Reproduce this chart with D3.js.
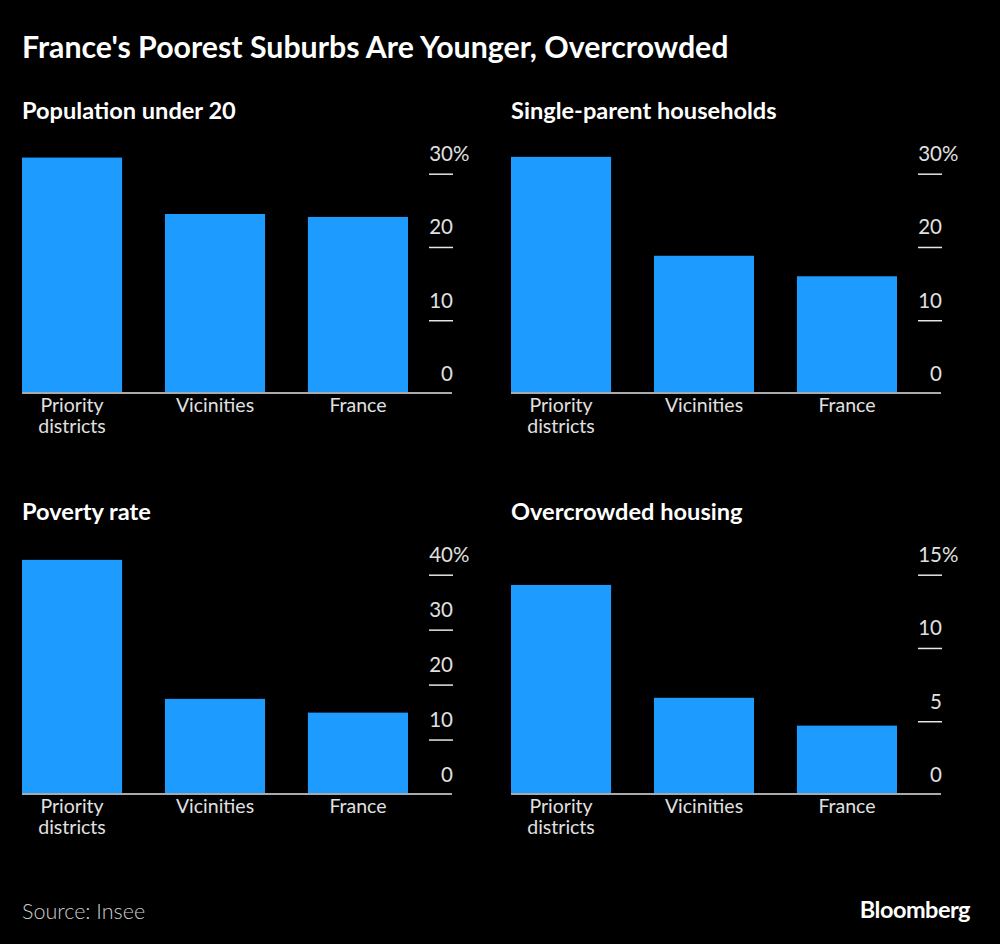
<!DOCTYPE html>
<html>
<head>
<meta charset="utf-8">
<script src="https://cdn.jsdelivr.net/npm/d3@7"></script>
<style>
  body { margin: 0; background: #000; }
  text { font-family: Lato, sans-serif; }
</style>
</head>
<body>
<script>
var width = 1000, height = 944

// data
var categories = ["Priority districts", "Vicinities", "France"]
var panelTitles = ["Population under 20", "Single-parent households", "Poverty rate", "Overcrowded housing"]
var populationUnder20 = [32.2, 24.5, 24.1]
var singleParent = [32.3, 18.8, 16.0]
var povertyRate = [42.7, 17.4, 14.9]
var overcrowded = [14.3, 6.6, 4.7]
var ticks1 = [0, 10, 20, 30]
var ticks2 = [0, 10, 20, 30]
var ticks3 = [0, 10, 20, 30, 40]
var ticks4 = [0, 5, 10, 15]

var panels = [
  {title: panelTitles[0], values: populationUnder20, ticks: ticks1, col: 0, row: 0},
  {title: panelTitles[1], values: singleParent, ticks: ticks2, col: 1, row: 0},
  {title: panelTitles[2], values: povertyRate, ticks: ticks3, col: 0, row: 1},
  {title: panelTitles[3], values: overcrowded, ticks: ticks4, col: 1, row: 1}
]

var svg = d3.select("body").append("svg")
    .attr("width", width)
    .attr("height", height)

svg.append("rect").attr("width", width).attr("height", height).attr("fill", "#000")

svg.append("text")
    .attr("x", 22).attr("y", 58)
    .attr("fill", "#fff")
    .attr("font-size", 30.3)
    .attr("font-weight", 700)
    .text("France's Poorest Suburbs Are Younger, Overcrowded")

var x = d3.scaleBand().domain(categories).range([0, 386]).paddingInner(0.3).paddingOuter(0)

panels.forEach(function(p) {
  var g = svg.append("g")
      .attr("transform", "translate(" + (22 + p.col * 489) + "," + (p.row * 401) + ")")

  g.append("text")
      .attr("x", 0).attr("y", 119)
      .attr("fill", "#fff")
      .attr("font-size", 23.6)
      .attr("font-weight", 700)
      .text(p.title)

  var y = d3.scaleLinear()
      .domain([0, d3.max(p.ticks)])
      .range([393.5, 173.7])

  // y axis on the right, labels sit above short tick lines
  var yAxis = g.append("g")
      .attr("transform", "translate(407,0)")
      .call(d3.axisRight(y).tickValues(p.ticks).tickSize(24).tickFormat(d3.format("d")))
  yAxis.select(".domain").remove()
  yAxis.selectAll(".tick line")
      .attr("stroke", "#e6e6e6").attr("stroke-width", 1.5)
      .filter(function(d) { return d === 0 }).remove()
  yAxis.selectAll(".tick text")
      .attr("x", 24).attr("dy", -13)
      .attr("text-anchor", "end")
      .attr("fill", "#e0e0e0")
      .attr("font-size", 20.5)
      .attr("font-weight", 400)
      .attr("font-family", "Lato, sans-serif")
  yAxis.selectAll(".tick")
      .filter(function(d) { return d === d3.max(p.ticks) })
      .append("text")
      .attr("x", 24).attr("y", -13)
      .attr("fill", "#e0e0e0")
      .attr("font-size", 20.5)
      .attr("font-weight", 400)
      .attr("letter-spacing", -1)
      .text("%")

  g.selectAll(".bar")
      .data(p.values)
    .enter().append("rect")
      .attr("class", "bar")
      .attr("x", function(d, i) { return x(categories[i]) })
      .attr("width", x.bandwidth())
      .attr("y", function(d) { return y(d) })
      .attr("height", function(d) { return y(0) - y(d) })
      .attr("fill", "#1e9bff")

  g.append("line")
      .attr("x1", 0).attr("x2", 430)
      .attr("y1", y(0) - 0.5).attr("y2", y(0) - 0.5)
      .attr("stroke", "#aaa")
      .attr("stroke-width", 2)

  // category labels, two-word names wrap onto a second line
  categories.forEach(function(c) {
    c.split(" ").forEach(function(word, i) {
      g.append("text")
          .attr("x", x(c) + x.bandwidth() / 2)
          .attr("y", y(0) + 18 + i * 21)
          .attr("text-anchor", "middle")
          .attr("fill", "#e0e0e0")
          .attr("font-size", 19.5)
          .attr("font-weight", 400)
          .text(word)
    })
  })
})

svg.append("text")
    .attr("x", 22).attr("y", 919)
    .attr("fill", "#ccc")
    .attr("font-size", 21.5)
    .attr("font-weight", 300)
    .text("Source: Insee")

svg.append("text")
    .attr("x", 970).attr("y", 918)
    .attr("text-anchor", "end")
    .attr("fill", "#fff")
    .attr("font-size", 23.5)
    .attr("font-weight", 700)
    .attr("letter-spacing", -0.5)
    .text("Bloomberg")
</script>
</body>
</html>
